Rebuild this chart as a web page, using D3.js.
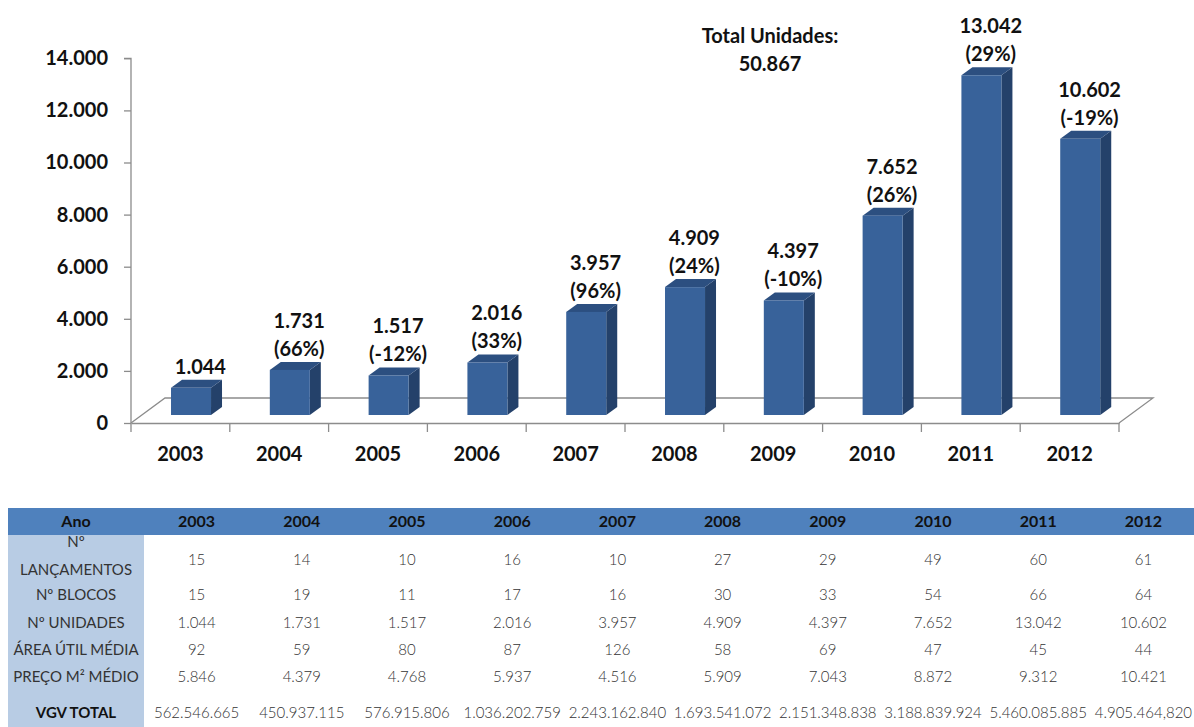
<!DOCTYPE html>
<html>
<head>
<meta charset="utf-8">
<script src="https://cdn.jsdelivr.net/npm/d3@7"></script>
<style>
  html, body { margin: 0; padding: 0; background: #fff; }
  svg { display: block; }
  text { font-family: Lato, "Open Sans", sans-serif; }
</style>
</head>
<body>
<svg id="chart" width="1194" height="727"></svg>
<script>
// ---------- DATA ----------
const years = ["2003","2004","2005","2006","2007","2008","2009","2010","2011","2012"];
const units = [1044, 1731, 1517, 2016, 3957, 4909, 4397, 7652, 13042, 10602];
const pctChange = [null, "(66%)", "(-12%)", "(33%)", "(96%)", "(24%)", "(-10%)", "(26%)", "(29%)", "(-19%)"];
const yTicks = [0, 2000, 4000, 6000, 8000, 10000, 12000, 14000];
const totalLabel = ["Total Unidades:", "50.867"];

const rowLabels = [["Nº", "LANÇAMENTOS"], ["Nº BLOCOS"], ["Nº UNIDADES"], ["ÁREA ÚTIL MÉDIA"], ["PREÇO M² MÉDIO"], ["VGV TOTAL"]];
const lancamentos = [15, 14, 10, 16, 10, 27, 29, 49, 60, 61];
const blocos = [15, 19, 11, 17, 16, 30, 33, 54, 66, 64];
const areaUtil = [92, 59, 80, 87, 126, 58, 69, 47, 45, 44];
const precoM2 = [5846, 4379, 4768, 5937, 4516, 5909, 7043, 8872, 9312, 10421];
const vgvTotal = ["562.546.665", "450.937.115", "576.915.806", "1.036.202.759", "2.243.162.840",
                  "1.693.541.072", "2.151.348.838", "3.188.839.924", "5.460.085.885", "4.905.464,820"];

// ---------- SETUP ----------
const loc = d3.formatLocale({decimal: ",", thousands: ".", grouping: [3], currency: ["R$", ""]});
const fmt = loc.format(",d");
const svg = d3.select("#chart");

const x = d3.scaleBand().domain(years).range([131, 1119]).paddingInner(0).paddingOuter(0);
const y = d3.scaleLinear().domain([0, 14000]).range([423, 58.3]);
const bw = x.bandwidth();
const depthX = 34, depthY = 25;     // floor depth
const bdx = 11, bdy = 8;            // bar depth
const barLift = 8;                  // bars sit slightly behind the front edge

// ---------- FLOOR ----------
const y0 = y(0);
const floor = svg.append("g").attr("fill", "none").attr("stroke", "#8c8c8c").attr("stroke-width", 1.3);
floor.append("path").attr("d",
  `M${x.range()[0]},${y0} L${x.range()[0] + depthX},${y0 - depthY} L${x.range()[1] + depthX},${y0 - depthY} L${x.range()[1]},${y0}`);

// ---------- Y AXIS ----------
const yAxis = d3.axisLeft(y).tickValues(yTicks).tickFormat(fmt).tickSize(7).tickPadding(16);
const gy = svg.append("g").attr("transform", `translate(${x.range()[0]},0)`).call(yAxis);
gy.select(".domain").attr("stroke", "#8c8c8c").attr("stroke-width", 1.3)
  .attr("d", `M-7,${y(14000)}H0V${y0 + 9}`);
gy.selectAll(".tick line").attr("stroke", "#8c8c8c").attr("stroke-width", 1.3);
gy.selectAll(".tick text").attr("font-size", 20).attr("font-weight", 700).attr("fill", "#111")
  .attr("font-family", "Lato, sans-serif");

// ---------- X AXIS ----------
const xAxis = d3.axisBottom(x).tickSize(0).tickPadding(24);
const gx = svg.append("g").attr("transform", `translate(0,${y0})`).call(xAxis);
gx.select(".domain").attr("stroke", "#8c8c8c").attr("stroke-width", 1.3);
gx.selectAll(".tick text").attr("font-size", 20).attr("font-weight", 700).attr("fill", "#111")
  .attr("font-family", "Lato, sans-serif");
// separator ticks at band edges
svg.append("g").selectAll("line").data(years.slice(1).concat(["end"])).join("line")
  .attr("x1", d => d === "end" ? x.range()[1] : x(d))
  .attr("x2", d => d === "end" ? x.range()[1] : x(d))
  .attr("y1", y0).attr("y2", y0 + 9)
  .attr("stroke", "#8c8c8c").attr("stroke-width", 1.3);

// ---------- BARS ----------
const data = years.map((yr, i) => ({yr, v: units[i], pct: pctChange[i]}));
const bars = svg.append("g").selectAll("g").data(data).join("g");
const fx = d => x(d.yr) + bw * 0.405;
const fw = bw * 0.405;
const fTop = d => y(d.v) - barLift;
const fBot = y0 - barLift;

bars.append("path").attr("fill", "#24416a")
  .attr("d", d => `M${fx(d) + fw},${fTop(d)} L${fx(d) + fw + bdx},${fTop(d) - bdy} L${fx(d) + fw + bdx},${fBot - bdy} L${fx(d) + fw},${fBot} Z`);
bars.append("path").attr("fill", "#2c4f80")
  .attr("d", d => `M${fx(d)},${fTop(d)} L${fx(d) + bdx},${fTop(d) - bdy} L${fx(d) + fw + bdx},${fTop(d) - bdy} L${fx(d) + fw},${fTop(d)} Z`);
bars.append("rect").attr("fill", "#38629a")
  .attr("x", fx).attr("y", fTop).attr("width", fw).attr("height", d => fBot - fTop(d));

// ---------- VALUE LABELS ----------
const labels = svg.append("g").selectAll("text").data(data).join("text")
  .attr("text-anchor", "middle").attr("font-size", 20).attr("font-weight", 700).attr("fill", "#111")
  .attr("x", d => x(d.yr) + bw / 2 + 20);
labels.each(function(d) {
  const t = d3.select(this);
  const base = fTop(d) - bdy - 6;
  if (d.pct) {
    t.append("tspan").attr("x", x(d.yr) + bw / 2 + 20).attr("y", base - 28).text(fmt(d.v));
    t.append("tspan").attr("x", x(d.yr) + bw / 2 + 20).attr("y", base).text(d.pct);
  } else {
    t.append("tspan").attr("x", x(d.yr) + bw / 2 + 20).attr("y", base).text(fmt(d.v));
  }
});

// ---------- TOTAL ----------
svg.append("g").selectAll("text").data(totalLabel).join("text")
  .attr("x", 770).attr("y", (d, i) => 43 + i * 28)
  .attr("text-anchor", "middle").attr("font-size", 20).attr("font-weight", 700).attr("fill", "#111")
  .text(d => d);

// ---------- TABLE ----------
const tx = d3.scaleBand().domain(years).range([144, 1196]);
const tableTop = 508, headerBottom = 535;
const tbl = svg.append("g");
tbl.append("rect").attr("x", 8).attr("y", headerBottom).attr("width", 136).attr("height", 727 - headerBottom).attr("fill", "#b8cce4");
tbl.append("rect").attr("x", 8).attr("y", tableTop).attr("width", 1194 - 8).attr("height", headerBottom - tableTop).attr("fill", "#4f81bd");

tbl.append("text").attr("x", 76).attr("y", 527).attr("text-anchor", "middle")
  .attr("font-size", 16).attr("font-weight", 700).attr("fill", "#111").text("Ano");
tbl.selectAll("text.hdr").data(years).join("text").attr("class", "hdr")
  .attr("x", d => tx(d) + tx.bandwidth() / 2).attr("y", 527).attr("text-anchor", "middle")
  .attr("font-size", 16).attr("font-weight", 700).attr("fill", "#111").text(d => d);

const rowCenters = [560, 595, 623, 650, 677, 713];
const rowValues = [lancamentos.map(String), blocos.map(String), units.map(fmt), areaUtil.map(String), precoM2.map(fmt), vgvTotal];

rowLabels.forEach((lines, r) => {
  const t = tbl.append("text").attr("text-anchor", "middle").attr("font-size", 15)
    .attr("font-weight", r === 5 ? 700 : 400).attr("fill", r === 5 ? "#111" : "#333");
  lines.forEach((ln, k) => {
    const yy = lines.length === 2 ? (k === 0 ? 547 : 575) : rowCenters[r] + 5;
    t.append("tspan").attr("x", 76).attr("y", yy).text(ln);
  });
  tbl.append("g").selectAll("text").data(rowValues[r]).join("text")
    .attr("x", (d, i) => tx(years[i]) + tx.bandwidth() / 2).attr("y", rowCenters[r] + 5)
    .attr("text-anchor", "middle").attr("font-size", 15).attr("font-weight", 300).attr("fill", "#333")
    .text(d => d);
});
</script>
</body>
</html>
